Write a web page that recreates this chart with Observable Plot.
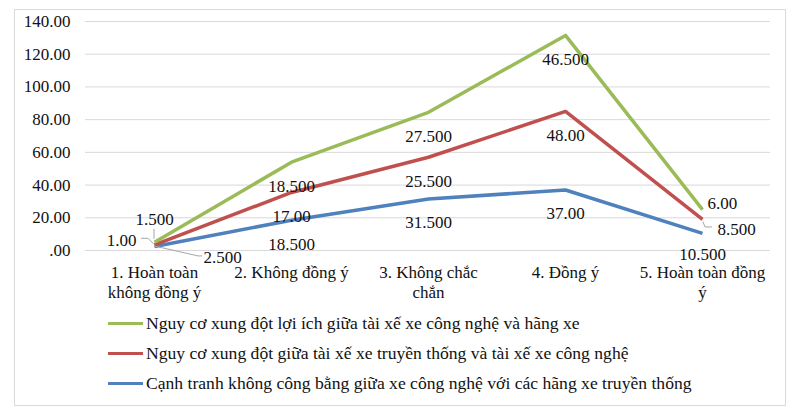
<!DOCTYPE html>
<html><head><meta charset="utf-8">
<script src="https://cdn.jsdelivr.net/npm/d3@7"></script>
<script src="https://cdn.jsdelivr.net/npm/@observablehq/plot@0.6"></script>
<style>
body{margin:0;background:#fff;font-family:"Liberation Serif","Times New Roman",serif;}
#wrap{position:relative;width:800px;height:408px;overflow:hidden}
#chart{position:absolute;left:0;top:0}
#frame{position:absolute;left:14px;top:9px;width:772px;height:397px;border:1px solid #d9d9d9;box-sizing:border-box;pointer-events:none}
#legend{position:absolute;left:108px;top:308px;}
.row{display:flex;align-items:center;height:30px;font-size:17.6px;color:#111;white-space:nowrap}
.sw{width:35px;height:3px;margin-right:3px}
</style></head><body>
<div id="wrap"><div id="chart"></div><div id="legend"></div><div id="frame"></div></div>
<script>
// ---- data ----
const categories = ["1. Hoàn toàn\nkhông đồng ý", "2. Không đồng ý", "3. Không chắc\nchắn", "4. Đồng ý", "5. Hoàn toàn đồng\ný"];
const seriesNames = [
  "Nguy cơ xung đột lợi ích giữa tài xế xe công nghệ và hãng xe",
  "Nguy cơ xung đột giữa tài xế xe truyền thống và tài xế xe công nghệ",
  "Cạnh tranh không công bằng giữa xe công nghệ với các hãng xe truyền thống"
];
const greenValues = [1.5, 18.5, 27.5, 46.5, 6];
const redValues = [1, 17, 25.5, 48, 8.5];
const blueValues = [2.5, 18.5, 31.5, 37, 10.5];
const yTicks = [0, 20, 40, 60, 80, 100, 120, 140];
const yTickLabels = [".00", "20.00", "40.00", "60.00", "80.00", "100.00", "120.00", "140.00"];

// ---- styling ----
const colors = ["#9BBB59", "#C0504D", "#4F81BD"];
const FONT = "'Liberation Serif', 'Times New Roman', serif";
// stacking order: blue bottom, red middle, green top
const stackOrder = [2, 1, 0];
const seriesValues = [greenValues, redValues, blueValues];

const rows = [];
const cum = categories.map(() => 0);
for (const s of stackOrder) {
  seriesValues[s].forEach((v, i) => {
    cum[i] += v;
    rows.push({series: s, cat: categories[i], ci: i, value: v, top: cum[i]});
  });
}
const fmt = v => Number.isInteger(v) ? v.toFixed(2) : v.toFixed(3);

// label placement (Excel-like)
const labelPos = {
  "0-0": {dx: 0, dy: -23, anchor: "middle"},
  "1-0": {dx: -18, dy: -4, anchor: "end"},
  "2-0": {dx: 49, dy: 11, anchor: "start"},
  "0-4": {dx: 5, dy: -6, anchor: "start"},
  "1-4": {dx: 15, dy: 10, anchor: "start"},
  "2-4": {dx: 0, dy: 21, anchor: "middle"}
};
const pos = d => labelPos[`${d.series}-${d.ci}`] || {dx: 0, dy: 24, anchor: "middle"};
const groups = {};
for (const d of rows) {
  const p = pos(d);
  const k = `${p.dx}|${p.dy}|${p.anchor}`;
  (groups[k] = groups[k] || {p, data: []}).data.push(d);
}
const labelMarks = Object.values(groups).map(({p, data}) =>
  Plot.text(data, {x: "cat", y: "top", text: d => fmt(d.value), dx: p.dx, dy: p.dy,
    textAnchor: p.anchor, fill: "#111", fontSize: 17, fontFamily: FONT}));

// leader lines: [series, category index, pixel offsets relative to point]
const leaderDefs = [
  [0, 0, [[0, -3], [0, -13]]],
  [1, 0, [[0, 0], [-6, -6], [-13, -6]]],
  [2, 0, [[0, 0], [44, 10], [48, 10]]],
  [1, 4, [[1, 3], [3, 8], [10, 8]]]
];
function leaders(index, scales) {
  const g = d3.create("svg:g").attr("fill", "none").attr("stroke", "#a6a6a6").attr("stroke-width", 1);
  for (const [s, ci, offs] of leaderDefs) {
    const d = rows.find(r => r.series === s && r.ci === ci);
    const px = scales.x(d.cat), py = scales.y(d.top);
    g.append("polyline").attr("points", offs.map(([a, b]) => `${px + a},${py + b}`).join(" "));
  }
  return g.node();
}

const line1 = categories.map(c => ({cat: c, t: c.split("\n")[0]}));
const line2 = categories.filter(c => c.includes("\n")).map(c => ({cat: c, t: c.split("\n")[1]}));

const chart = Plot.plot({
  width: 800, height: 310,
  marginLeft: 85, marginRight: 30, marginTop: 21, marginBottom: 60,
  style: {fontFamily: FONT, background: "transparent", overflow: "visible"},
  x: {type: "point", domain: categories, padding: 0.5, axis: null},
  y: {domain: [0, 140], axis: null},
  marks: [
    Plot.ruleY(yTicks, {stroke: "#d9d9d9", strokeWidth: 1}),
    Plot.axisY({ticks: yTicks, tickFormat: d => yTickLabels[yTicks.indexOf(d)], tickSize: 0, tickPadding: 15,
      fontSize: 17, fill: "#111", label: null}),
    Plot.line(rows, {x: "cat", y: "top", z: "series", stroke: d => colors[d.series], strokeWidth: 3.5,
      strokeLinejoin: "round", strokeLinecap: "butt"}),
    leaders,
    ...labelMarks,
    Plot.text(line1, {x: "cat", text: "t", frameAnchor: "bottom", dy: 27, fontSize: 17, fill: "#111", fontFamily: FONT}),
    Plot.text(line2, {x: "cat", text: "t", frameAnchor: "bottom", dy: 47, fontSize: 17, fill: "#111", fontFamily: FONT})
  ]
});
document.getElementById("chart").appendChild(chart);

const legend = document.getElementById("legend");
seriesNames.forEach((name, i) => {
  const r = document.createElement("div");
  r.className = "row";
  r.innerHTML = `<span class="sw" style="background:${colors[i]}"></span><span></span>`;
  r.lastChild.textContent = name;
  legend.appendChild(r);
});
</script></body></html>
